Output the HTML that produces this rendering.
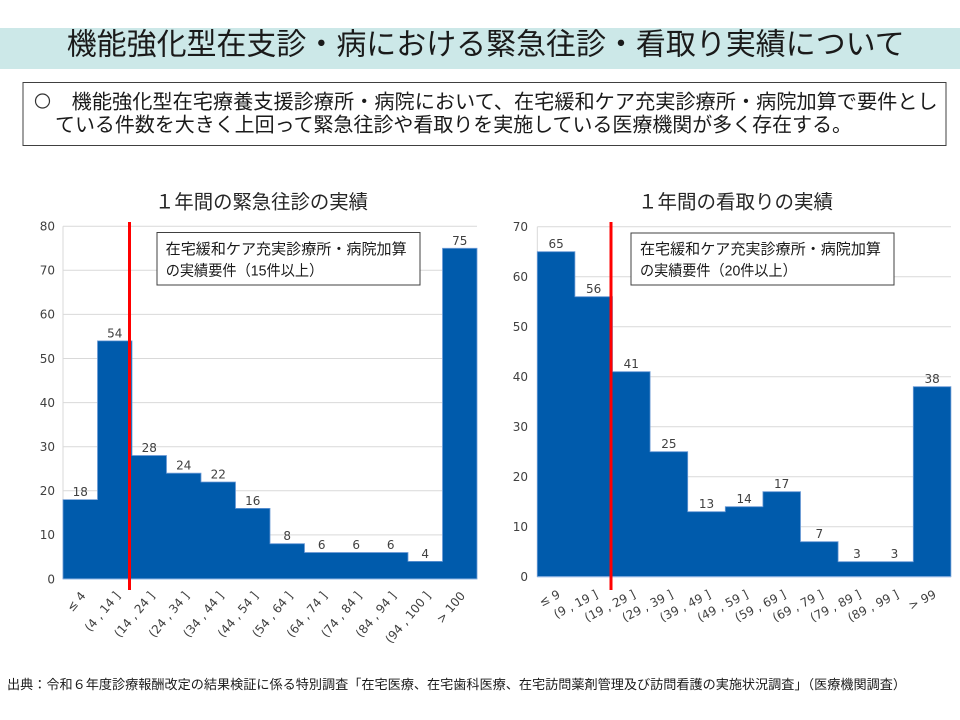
<!DOCTYPE html>
<html><head><meta charset="utf-8"><style>
html,body{margin:0;padding:0;background:#fff;}
svg{display:block;}
.jp{font-family:"Liberation Sans","Noto Sans CJK JP",sans-serif;}
.num{font-family:"DejaVu Sans","Liberation Sans",sans-serif;font-size:12px;fill:#404040;}
.xl{font-family:"DejaVu Sans","Liberation Sans",sans-serif;font-size:12px;fill:#404040;}
</style></head><body>
<svg width="960" height="720" viewBox="0 0 960 720" xmlns="http://www.w3.org/2000/svg">
<rect width="960" height="720" fill="#fff"/>
<!-- title bar -->
<rect x="0" y="28" width="960" height="41" fill="#cce8e8"/>
<text class="jp" x="66.7" y="54.5" font-size="30" fill="#1a1a1a" textLength="838" lengthAdjust="spacingAndGlyphs">機能強化型在支診・病における緊急往診・看取り実績について</text>
<!-- text box -->
<rect x="23" y="82.5" width="923" height="63" fill="#fff" stroke="#404040" stroke-width="1"/>
<circle cx="42.5" cy="101" r="7" fill="none" stroke="#333" stroke-width="1.2"/>
<text class="jp" x="71.7" y="108.6" font-size="20" fill="#1a1a1a" textLength="866" lengthAdjust="spacingAndGlyphs">機能強化型在宅療養支援診療所・病院において、在宅緩和ケア充実診療所・病院加算で要件とし</text>
<text class="jp" x="55" y="131.6" font-size="20" fill="#1a1a1a" textLength="797" lengthAdjust="spacingAndGlyphs">ている件数を大きく上回って緊急往診や看取りを実施している医療機関が多く存在する。</text>

<!-- chart titles -->
<text class="jp" x="155" y="208.4" font-size="19.5" fill="#262626" textLength="213" lengthAdjust="spacingAndGlyphs">１年間の緊急往診の実績</text>
<text class="jp" x="638" y="208.4" font-size="19.5" fill="#262626" textLength="195" lengthAdjust="spacingAndGlyphs">１年間の看取りの実績</text>

<!-- LEFT CHART -->
<g stroke="#d9d9d9" stroke-width="1">
<line x1="63" y1="534.9" x2="477" y2="534.9"/>
<line x1="63" y1="490.8" x2="477" y2="490.8"/>
<line x1="63" y1="446.7" x2="477" y2="446.7"/>
<line x1="63" y1="402.6" x2="477" y2="402.6"/>
<line x1="63" y1="358.5" x2="477" y2="358.5"/>
<line x1="63" y1="314.4" x2="477" y2="314.4"/>
<line x1="63" y1="270.3" x2="477" y2="270.3"/>
<line x1="63" y1="226.2" x2="477" y2="226.2"/>
<line x1="63" y1="226.2" x2="63" y2="579"/>
</g>
<polygon fill="#005bac" stroke="#6d9bd6" stroke-width="0.8" points="63,579 63,499.6 97.5,499.6 97.5,340.9 132,340.9 132,455.5 166.5,455.5 166.5,473.2 201,473.2 201,482 235.5,482 235.5,508.4 270,508.4 270,543.7 304.5,543.7 304.5,552.5 408,552.5 408,561.4 442.5,561.4 442.5,248.3 477,248.3 477,579"/>
<line x1="63" y1="579" x2="477" y2="579" stroke="#8fb4e3" stroke-width="1"/>
<g class="num" text-anchor="end">
<text x="55" y="583.3">0</text>
<text x="55" y="539.2">10</text>
<text x="55" y="495.1">20</text>
<text x="55" y="451">30</text>
<text x="55" y="406.9">40</text>
<text x="55" y="362.8">50</text>
<text x="55" y="318.7">60</text>
<text x="55" y="274.6">70</text>
<text x="55" y="230.5">80</text>
</g>
<g class="num" text-anchor="middle">
<text x="80.25" y="496.1">18</text>
<text x="114.75" y="337.4">54</text>
<text x="149.25" y="452">28</text>
<text x="183.75" y="469.7">24</text>
<text x="218.25" y="478.5">22</text>
<text x="252.75" y="504.9">16</text>
<text x="287.25" y="540.2">8</text>
<text x="321.75" y="549">6</text>
<text x="356.25" y="549">6</text>
<text x="390.75" y="549">6</text>
<text x="425.25" y="557.9">4</text>
<text x="459.75" y="244.8">75</text>
</g>
<g class="xl" text-anchor="end">
<text transform="translate(86.25,596) rotate(-50)">≤ 4</text>
<text transform="translate(120.75,596) rotate(-50)">(4 , 14 ]</text>
<text transform="translate(155.25,596) rotate(-50)">(14 , 24 ]</text>
<text transform="translate(189.75,596) rotate(-50)">(24 , 34 ]</text>
<text transform="translate(224.25,596) rotate(-50)">(34 , 44 ]</text>
<text transform="translate(258.75,596) rotate(-50)">(44 , 54 ]</text>
<text transform="translate(293.25,596) rotate(-50)">(54 , 64 ]</text>
<text transform="translate(327.75,596) rotate(-50)">(64 , 74 ]</text>
<text transform="translate(362.25,596) rotate(-50)">(74 , 84 ]</text>
<text transform="translate(396.75,596) rotate(-50)">(84 , 94 ]</text>
<text transform="translate(431.25,596) rotate(-50)">(94 , 100 ]</text>
<text transform="translate(465.75,596) rotate(-50)">&gt; 100</text>
</g>
<line x1="129.5" y1="222" x2="129.5" y2="590" stroke="#ff0000" stroke-width="3"/>
<rect x="157" y="232.5" width="263" height="52.5" fill="#fff" stroke="#404040" stroke-width="1"/>
<text class="jp" x="165.7" y="254" font-size="15" fill="#1a1a1a" textLength="241" lengthAdjust="spacingAndGlyphs">在宅緩和ケア充実診療所・病院加算</text>
<text class="jp" x="165.7" y="275.7" font-size="15" fill="#1a1a1a" textLength="157.6" lengthAdjust="spacingAndGlyphs">の実績要件（15件以上）</text>

<!-- RIGHT CHART -->
<g stroke="#d9d9d9" stroke-width="1">
<line x1="537.3" y1="526.7" x2="951" y2="526.7"/>
<line x1="537.3" y1="476.7" x2="951" y2="476.7"/>
<line x1="537.3" y1="426.7" x2="951" y2="426.7"/>
<line x1="537.3" y1="376.7" x2="951" y2="376.7"/>
<line x1="537.3" y1="326.7" x2="951" y2="326.7"/>
<line x1="537.3" y1="276.7" x2="951" y2="276.7"/>
<line x1="537.3" y1="226.7" x2="951" y2="226.7"/>
<line x1="537.3" y1="226.7" x2="537.3" y2="576.7"/>
</g>
<polygon fill="#005bac" stroke="#6d9bd6" stroke-width="0.8" points="537.3,576.7 537.3,251.7 574.9,251.7 574.9,296.7 612.5,296.7 612.5,371.7 650.1,371.7 650.1,451.7 687.7,451.7 687.7,511.7 725.3,511.7 725.3,506.7 762.9,506.7 762.9,491.7 800.5,491.7 800.5,541.7 838.1,541.7 838.1,561.7 913.3,561.7 913.3,386.7 950.9,386.7 950.9,576.7"/>
<line x1="537.3" y1="576.7" x2="951" y2="576.7" stroke="#8fb4e3" stroke-width="1"/>
<g class="num" text-anchor="end">
<text x="528" y="581">0</text>
<text x="528" y="531">10</text>
<text x="528" y="481">20</text>
<text x="528" y="431">30</text>
<text x="528" y="381">40</text>
<text x="528" y="331">50</text>
<text x="528" y="281">60</text>
<text x="528" y="231">70</text>
</g>
<g class="num" text-anchor="middle">
<text x="556.1" y="248.2">65</text>
<text x="593.7" y="293.2">56</text>
<text x="631.3" y="368.2">41</text>
<text x="668.9" y="448.2">25</text>
<text x="706.5" y="508.2">13</text>
<text x="744.1" y="503.2">14</text>
<text x="781.7" y="488.2">17</text>
<text x="819.3" y="538.2">7</text>
<text x="856.9" y="558.2">3</text>
<text x="894.5" y="558.2">3</text>
<text x="932.1" y="383.2">38</text>
</g>
<g class="xl" text-anchor="end">
<text transform="translate(561.1,597) rotate(-27)">≤ 9</text>
<text transform="translate(598.7,597) rotate(-27)">(9 , 19 ]</text>
<text transform="translate(636.3,597) rotate(-27)">(19 , 29 ]</text>
<text transform="translate(673.9,597) rotate(-27)">(29 , 39 ]</text>
<text transform="translate(711.5,597) rotate(-27)">(39 , 49 ]</text>
<text transform="translate(749.1,597) rotate(-27)">(49 , 59 ]</text>
<text transform="translate(786.7,597) rotate(-27)">(59 , 69 ]</text>
<text transform="translate(824.3,597) rotate(-27)">(69 , 79 ]</text>
<text transform="translate(861.9,597) rotate(-27)">(79 , 89 ]</text>
<text transform="translate(899.5,597) rotate(-27)">(89 , 99 ]</text>
<text transform="translate(937.1,597) rotate(-27)">&gt; 99</text>
</g>
<line x1="611" y1="222" x2="611" y2="590" stroke="#ff0000" stroke-width="3"/>
<rect x="631" y="233" width="263" height="52" fill="#fff" stroke="#404040" stroke-width="1"/>
<text class="jp" x="640" y="254" font-size="15" fill="#1a1a1a" textLength="241" lengthAdjust="spacingAndGlyphs">在宅緩和ケア充実診療所・病院加算</text>
<text class="jp" x="640" y="275.7" font-size="15" fill="#1a1a1a" textLength="156.7" lengthAdjust="spacingAndGlyphs">の実績要件（20件以上）</text>

<!-- footer -->
<text class="jp" x="7" y="689" font-size="13" fill="#1a1a1a" textLength="899" lengthAdjust="spacingAndGlyphs">出典：令和６年度診療報酬改定の結果検証に係る特別調査「在宅医療、在宅歯科医療、在宅訪問薬剤管理及び訪問看護の実施状況調査」（医療機関調査）</text>
</svg>
</body></html>
